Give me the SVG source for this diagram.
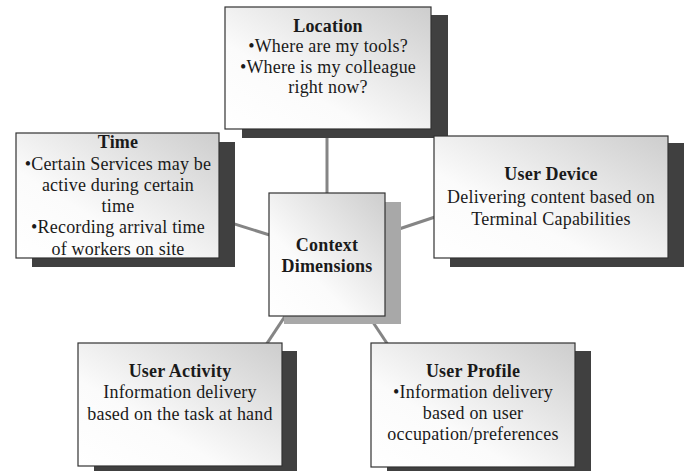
<svg xmlns="http://www.w3.org/2000/svg" width="687" height="471" viewBox="0 0 687 471">
  <defs>
    <linearGradient id="boxFill" x1="0" y1="1" x2="1" y2="0">
      <stop offset="0" stop-color="#ffffff"/>
      <stop offset="0.35" stop-color="#fbfbfb"/>
      <stop offset="1" stop-color="#cdcdcd"/>
    </linearGradient>
    <style>
      .box { fill: url(#boxFill); stroke: #333333; stroke-width: 1.2; }
      .shadow { fill: #404040; }
      .shadow-light { fill: #a8a8a8; }
      .link { stroke: #858585; stroke-width: 3; fill: none; }
      text { font-family: "Liberation Serif", "Times New Roman", serif; font-size: 18px; letter-spacing: 0.2px; fill: #1a1a1a; text-anchor: middle; }
      .title { font-weight: bold; }
    </style>
  </defs>

  <rect width="687" height="471" fill="#ffffff"/>

  <!-- spokes from the hub, drawn under every box -->
  <g id="connectors">
    <line class="link" x1="327" y1="253" x2="327" y2="100"/>
    <line class="link" x1="327" y1="253" x2="190" y2="210"/>
    <line class="link" x1="327" y1="253" x2="480" y2="202"/>
    <line class="link" x1="327" y1="253" x2="240" y2="384"/>
    <line class="link" x1="327" y1="253" x2="414" y2="384"/>
  </g>

  <g id="location">
    <rect class="shadow" x="242" y="15" width="206" height="123"/>
    <rect class="box" x="225" y="7" width="206" height="122"/>
    <text x="328" y="32" class="title">Location</text>
    <text x="328" y="52">•Where are my tools?</text>
    <text x="328" y="73">•Where is my colleague</text>
    <text x="328" y="93">right now?</text>
  </g>

  <g id="time">
    <rect class="shadow" x="32" y="142" width="203" height="125"/>
    <rect class="box" x="16" y="133" width="203" height="125"/>
    <text x="118" y="148" class="title">Time</text>
    <text x="118" y="170">•Certain Services may be</text>
    <text x="118" y="191">active during certain</text>
    <text x="118" y="212">time</text>
    <text x="118" y="233">•Recording arrival time</text>
    <text x="118" y="255">of workers on site</text>
  </g>

  <g id="user-device">
    <rect class="shadow" x="450" y="143" width="234" height="124"/>
    <rect class="box" x="434" y="136" width="234" height="122"/>
    <text x="551" y="180" class="title">User Device</text>
    <text x="551" y="203">Delivering content based on</text>
    <text x="551" y="225">Terminal Capabilities</text>
  </g>

  <g id="context-dimensions">
    <rect class="shadow-light" x="284" y="202" width="117" height="122"/>
    <rect class="box" x="269" y="193" width="116" height="123"/>
    <text x="327" y="251" class="title">Context</text>
    <text x="327" y="272" class="title">Dimensions</text>
  </g>

  <g id="user-activity">
    <rect class="shadow" x="94" y="351" width="203" height="123"/>
    <rect class="box" x="78" y="343" width="204" height="123"/>
    <text x="180" y="377" class="title">User Activity</text>
    <text x="180" y="398">Information delivery</text>
    <text x="180" y="420">based on the task at hand</text>
  </g>

  <g id="user-profile">
    <rect class="shadow" x="387" y="351" width="204" height="124"/>
    <rect class="box" x="371" y="343" width="204" height="124"/>
    <text x="473" y="377" class="title">User Profile</text>
    <text x="473" y="398">•Information delivery</text>
    <text x="473" y="419">based on user</text>
    <text x="473" y="440">occupation/preferences</text>
  </g>
</svg>
